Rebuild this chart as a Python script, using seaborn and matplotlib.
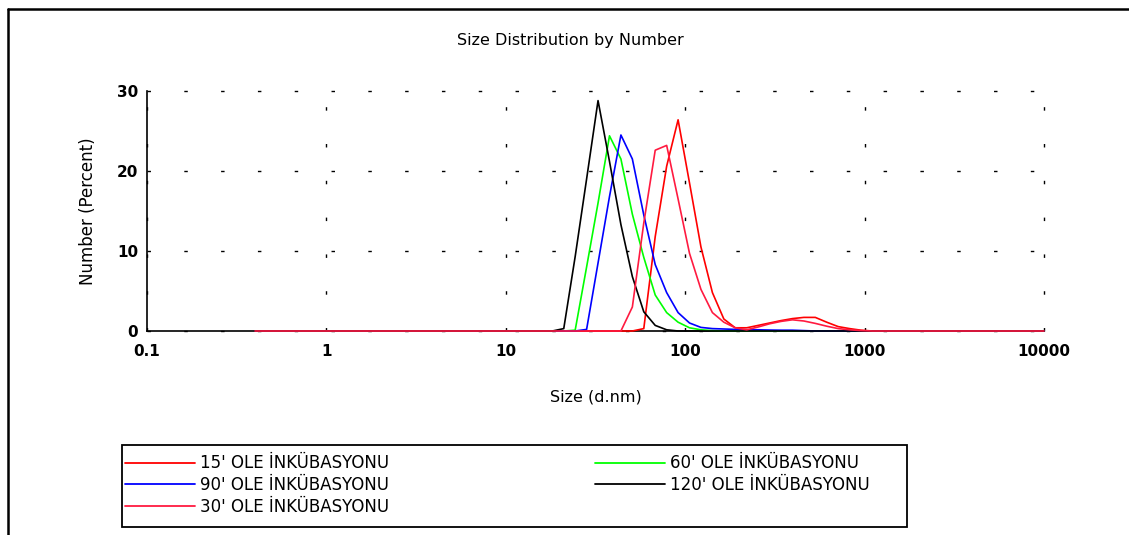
import matplotlib
matplotlib.use("Agg")
import matplotlib.pyplot as plt
import seaborn as sns
from matplotlib.lines import Line2D
from matplotlib.patches import Rectangle
from matplotlib.ticker import FixedLocator, NullFormatter

# Size bins (d.nm)
SIZES = [0.4, 0.4632, 0.5365, 0.6213, 0.7195, 0.8332, 0.9649, 1.117, 1.294, 1.499,
         1.736, 2.01, 2.328, 2.696, 3.122, 3.615, 4.187, 4.849, 5.615, 6.503,
         7.531, 8.721, 10.1, 11.7, 13.54, 15.69, 18.17, 21.04, 24.36, 28.21,
         32.67, 37.84, 43.82, 50.75, 58.77, 68.06, 78.82, 91.28, 105.7, 122.4,
         141.8, 164.2, 190.1, 220.2, 255.0, 295.3, 342.0, 396.1, 458.7, 531.2,
         615.1, 712.4, 825.0, 955.4, 1106, 1281, 1484, 1718, 1990, 2305,
         2669, 3091, 3580, 4145, 4801, 5560, 6439, 7456, 8635, 10000]

# Number (%) per bin
S15 = [0, 0, 0, 0, 0, 0, 0, 0, 0, 0,
       0, 0, 0, 0, 0, 0, 0, 0, 0, 0,
       0, 0, 0, 0, 0, 0, 0, 0, 0, 0,
       0, 0, 0, 0, 0.3, 11.8, 20.6, 26.4, 18.5, 10.5,
       4.8, 1.5, 0.4, 0.4, 0.7, 1.0, 1.3, 1.55, 1.7, 1.7,
       1.1, 0.55, 0.3, 0.1, 0, 0, 0, 0, 0, 0,
       0, 0, 0, 0, 0, 0, 0, 0, 0, 0]
S30 = [0, 0, 0, 0, 0, 0, 0, 0, 0, 0,
       0, 0, 0, 0, 0, 0, 0, 0, 0, 0,
       0, 0, 0, 0, 0, 0, 0, 0, 0, 0,
       0, 0, 0, 3.0, 13.5, 22.6, 23.2, 16.5, 9.7, 5.2,
       2.3, 1.1, 0.4, 0.15, 0.5, 0.9, 1.2, 1.4, 1.25, 0.95,
       0.6, 0.3, 0.15, 0.05, 0, 0, 0, 0, 0, 0,
       0, 0, 0, 0, 0, 0, 0, 0, 0, 0]
S60 = [0, 0, 0, 0, 0, 0, 0, 0, 0, 0,
       0, 0, 0, 0, 0, 0, 0, 0, 0, 0,
       0, 0, 0, 0, 0, 0, 0, 0, 0.1, 8.0,
       16.0, 24.4, 21.5, 14.6, 9.2, 4.5, 2.3, 1.1, 0.4, 0.15,
       0.05, 0, 0, 0, 0, 0, 0, 0, 0, 0,
       0, 0, 0, 0, 0, 0, 0, 0, 0, 0,
       0, 0, 0, 0, 0, 0, 0, 0, 0, 0]
S90 = [0, 0, 0, 0, 0, 0, 0, 0, 0, 0,
       0, 0, 0, 0, 0, 0, 0, 0, 0, 0,
       0, 0, 0, 0, 0, 0, 0, 0, 0, 0.2,
       8.5, 16.8, 24.5, 21.5, 14.5, 8.3, 4.8, 2.3, 1.0, 0.45,
       0.3, 0.25, 0.2, 0.15, 0.15, 0.12, 0.1, 0.1, 0.05, 0,
       0, 0, 0, 0, 0, 0, 0, 0, 0, 0,
       0, 0, 0, 0, 0, 0, 0, 0, 0, 0]
S120 = [0, 0, 0, 0, 0, 0, 0, 0, 0, 0,
        0, 0, 0, 0, 0, 0, 0, 0, 0, 0,
        0, 0, 0, 0, 0, 0, 0, 0.3, 9.3, 19.0,
        28.8, 21.2, 13.3, 6.8, 2.4, 0.7, 0.15, 0, 0, 0,
        0, 0, 0, 0, 0, 0, 0, 0, 0, 0,
        0, 0, 0, 0, 0, 0, 0, 0, 0, 0,
        0, 0, 0, 0, 0, 0, 0, 0, 0, 0]

LABELS = {"15": "15' OLE İNKÜBASYONU", "30": "30' OLE İNKÜBASYONU",
          "60": "60' OLE İNKÜBASYONU", "90": "90' OLE İNKÜBASYONU",
          "120": "120' OLE İNKÜBASYONU"}
COLORS = {"15": "#FF0000", "30": "#FF1A40", "60": "#00FF00",
          "90": "#0000FF", "120": "#000000"}
DATA = {"15": S15, "30": S30, "60": S60, "90": S90, "120": S120}
DRAW_ORDER = ["15", "60", "90", "120", "30"]
LEGEND_ORDER = ["15", "90", "30", "60", "120"]
XTICKS = [0.1, 1, 10, 100, 1000, 10000]
XTICKLABELS = ["0.1", "1", "10", "100", "1000", "10000"]
YTICKS = [0, 10, 20, 30]

sns.set_theme(style="white")
plt.rcParams['font.family'] = ['DejaVu Sans']
plt.rcParams.update({"text.color": "black", "axes.labelcolor": "black",
                     "xtick.color": "black", "ytick.color": "black"})

W, H = 1129, 535
fig = plt.figure(figsize=(W / 100, H / 100), dpi=100)
fig.patch.set_facecolor("white")
ax = fig.add_axes([147 / W, 1 - 331 / H, (1044 - 147) / W, (331 - 91) / H])
ax.set_facecolor("white")

for key in DRAW_ORDER:
    sns.lineplot(x=SIZES, y=DATA[key], color=COLORS[key], linewidth=1.2,
                 ax=ax, legend=False)
    ln = ax.get_lines()[-1]
    ln.set_clip_on(False)
    ln.set_zorder(3)

ax.set_xscale("log")
ax.set_xlim(0.1, 10000)
ax.set_ylim(0, 30)

ax.xaxis.set_major_locator(FixedLocator(XTICKS))
ax.set_xticklabels(XTICKLABELS)
minor = [m * 10.0 ** e for e in range(-1, 4) for m in range(2, 10)]
ax.xaxis.set_minor_locator(FixedLocator(minor))
ax.xaxis.set_minor_formatter(NullFormatter())
ax.yaxis.set_major_locator(FixedLocator(YTICKS))
ax.yaxis.set_minor_locator(FixedLocator([5, 15, 25]))

ax.tick_params(axis="both", which="major", direction="inout", length=7,
               width=1.2, color="black", labelsize=11, pad=6,
               labelcolor="black")
ax.tick_params(axis="both", which="minor", direction="inout", length=5,
               width=1.0, color="black")
ax.tick_params(axis="y", which="major", pad=3)
for lab in ax.get_xticklabels() + ax.get_yticklabels():
    lab.set_fontweight("bold")

for side in ["top", "right"]:
    ax.spines[side].set_visible(False)
for side in ["left", "bottom"]:
    ax.spines[side].set_color("black")
    ax.spines[side].set_linewidth(1.2)

ax.set_axisbelow("line")
ax.grid(True, which="major", color="black", linewidth=1.0,
        linestyle=(0, (2.5, 24)))
for gl in ax.get_xgridlines() + ax.get_ygridlines():
    gl.set_clip_on(False)

ax.set_xlabel("Size (d.nm)", fontsize=11.5, color="black")
ax.set_ylabel("Number (Percent)", fontsize=12, color="black")
ax.xaxis.set_label_coords(0.5, -(390 - 331) / 240)
ax.yaxis.set_label_coords((97 - 147) / 897, 0.5)

fig.text(570 / W, 1 - 41 / H, "Size Distribution by Number", ha="center",
         va="center", fontsize=11.5, color="black")

handles = [Line2D([], [], color=COLORS[k], linewidth=1.3) for k in LEGEND_ORDER]
labels = [LABELS[k] for k in LEGEND_ORDER]
FS = 12
fs_px = FS * 100 / 72
leg = fig.legend(handles, labels, loc="upper left",
                 bbox_to_anchor=(122 / W, 1 - 451 / H),
                 ncol=2, frameon=False, handlelength=70 / fs_px,
                 handletextpad=5 / fs_px, fontsize=FS, borderaxespad=0,
                 borderpad=0.2, labelspacing=0.22,
                 columnspacing=206 / fs_px)
for t in leg.get_texts():
    t.set_color("black")
fig.add_artist(Rectangle((122 / W, 1 - 527 / H), (907 - 122) / W, 82 / H,
                         transform=fig.transFigure, fill=False,
                         edgecolor="black", linewidth=1.3))

# outer frame
fig.add_artist(Line2D([8 / W, 8 / W], [0, 1 - 9 / H], color="black",
                      linewidth=1.8, transform=fig.transFigure))
fig.add_artist(Line2D([8 / W, 1], [1 - 9 / H, 1 - 9 / H], color="black",
                      linewidth=1.8, transform=fig.transFigure))

fig.savefig("out.png", dpi=100)
